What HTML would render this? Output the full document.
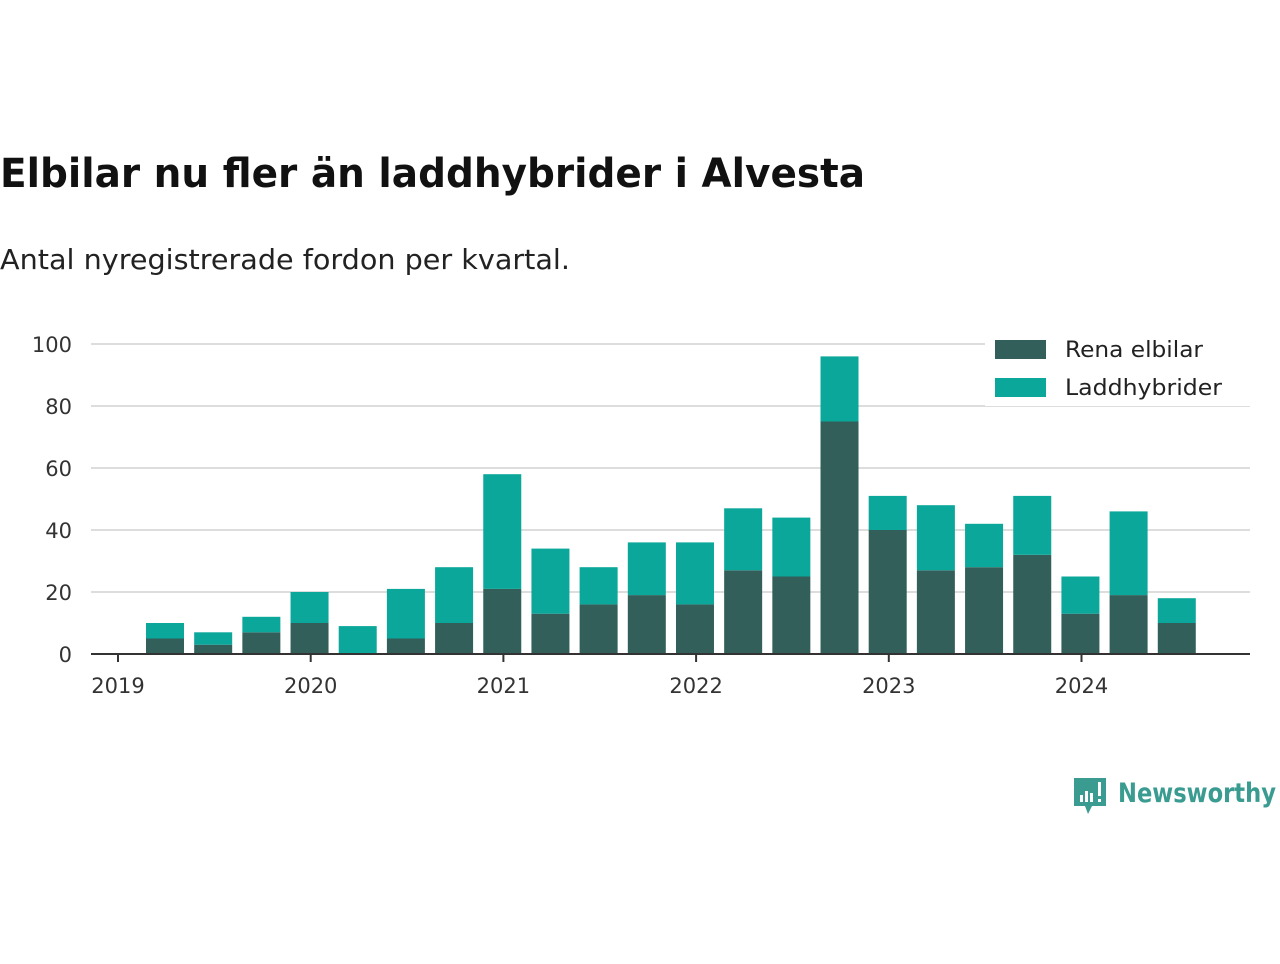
<!DOCTYPE html>
<html><head><meta charset="utf-8"><style>
body{margin:0;width:1280px;height:960px;background:#fff;font-family:"DejaVu Sans","Liberation Sans",sans-serif;overflow:hidden}
</style></head><body>
<svg width="1280" height="960" id="c">
<text x="0" y="187" font-size="40" font-weight="bold" fill="#111" textLength="865" lengthAdjust="spacingAndGlyphs">Elbilar nu fler än laddhybrider i Alvesta</text>
<text x="0" y="269" font-size="28" fill="#222" textLength="570" lengthAdjust="spacingAndGlyphs">Antal nyregistrerade fordon per kvartal.</text>
<g id="grid"></g><g id="bars"></g><g id="axes"></g>
<g>
<rect x="985" y="330" width="265" height="76" fill="#fff"/>
<rect x="995" y="340" width="51" height="19" fill="#335f5a"/>
<text x="1065" y="357" font-size="22" fill="#222" textLength="138" lengthAdjust="spacingAndGlyphs">Rena elbilar</text>
<rect x="995" y="378" width="51" height="19" fill="#0aa79a"/>
<text x="1065" y="395" font-size="22" fill="#222" textLength="157" lengthAdjust="spacingAndGlyphs">Laddhybrider</text>
</g>
<g>
<path d="M1074 778h32v28h-14l-4 8-3-8h-11z" fill="#3a9b91"/>
<rect x="1080" y="795" width="3" height="7" fill="#fff"/><rect x="1085" y="791" width="3" height="11" fill="#fff"/><rect x="1090" y="793" width="3" height="9" fill="#fff"/><rect x="1098" y="782" width="3" height="14" fill="#fff"/><rect x="1098" y="799" width="3" height="3" fill="#fff"/>
<text x="1118" y="802" font-size="27" font-weight="bold" fill="#3a9b91" textLength="158" lengthAdjust="spacingAndGlyphs">Newsworthy</text>
</g>
</svg>
<script>
const elbilar=[5,3,7,10,0,5,10,21,13,16,19,16,27,25,75,40,27,28,32,13,19,10];
const laddhybrider=[5,4,5,10,9,16,18,37,21,12,17,20,20,19,21,11,21,14,19,12,27,8];
const yTicks=[0,20,40,60,80,100];
const years=["2019","2020","2021","2022","2023","2024"];
const NS="http://www.w3.org/2000/svg";
const x0=91,x1=1250,yB=654,yT=344;
const y=v=>yB-(v/100)*(yB-yT);
const yearX=i=>118+i*192.7;
const barX=i=>165+i*48.18;
function mk(t,a,p){const e=document.createElementNS(NS,t);for(const k in a)e.setAttribute(k,a[k]);p.appendChild(e);return e;}
const g=document.getElementById('grid'),b=document.getElementById('bars'),ax=document.getElementById('axes');
yTicks.forEach(v=>{
 if(v>0){const l=mk('line',{x1:x0,x2:x1,y1:y(v),y2:y(v),stroke:'#ddd','stroke-width':2},g);
 
 }
 const t=mk('text',{x:72,y:y(v)+8,'font-size':21,fill:'#333','text-anchor':'end'},ax);t.textContent=v;
 
 
});
elbilar.forEach((v,i)=>{
 const cx=barX(i),w=38;
 const r1=mk('rect',{x:cx-w/2,y:y(v),width:w,height:yB-y(v),fill:'#335f5a'},b);
 
 
 const r2=mk('rect',{x:cx-w/2,y:y(v+laddhybrider[i]),width:w,height:y(v)-y(v+laddhybrider[i]),fill:'#0aa79a'},b);
 
 
});
const al=mk('line',{x1:x0,x2:x1,y1:yB,y2:yB,stroke:'#333','stroke-width':2},ax);


years.forEach((yr,i)=>{
 mk('line',{x1:yearX(i),x2:yearX(i),y1:yB,y2:yB+8,stroke:'#333','stroke-width':2},ax);
 const t=mk('text',{x:yearX(i),y:yB+39,'font-size':21,fill:'#333','text-anchor':'middle'},ax);t.textContent=yr;
 
 
});
</script>
</body></html>
